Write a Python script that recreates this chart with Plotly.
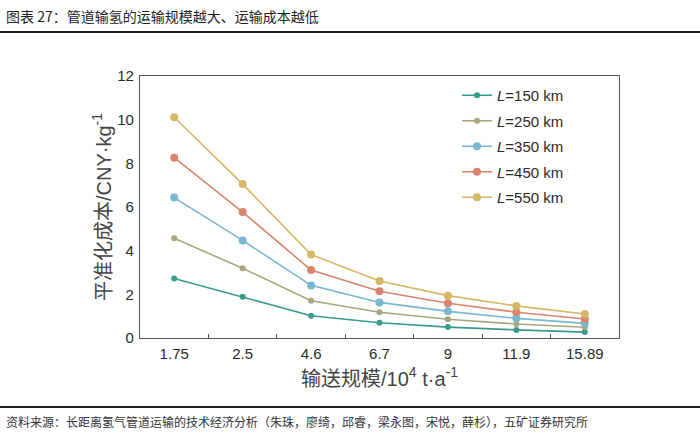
import plotly.graph_objects as go

categories = ["1.75", "2.5", "4.6", "6.7", "9", "11.9", "15.89"]
series_names = ["<i>L</i>=150 km", "<i>L</i>=250 km", "<i>L</i>=350 km", "<i>L</i>=450 km", "<i>L</i>=550 km"]
l150 = [2.73, 1.89, 1.02, 0.70, 0.50, 0.37, 0.27]
l250 = [4.57, 3.19, 1.71, 1.18, 0.86, 0.64, 0.49]
l350 = [6.43, 4.47, 2.41, 1.63, 1.22, 0.90, 0.67]
l450 = [8.26, 5.77, 3.11, 2.14, 1.59, 1.18, 0.87]
l550 = [10.11, 7.05, 3.82, 2.61, 1.94, 1.47, 1.10]
y_ticks = [0, 2, 4, 6, 8, 10, 12]

values = [l150, l250, l350, l450, l550]
colors = ["#3a9a8e", "#a9a67e", "#7ab7d0", "#d8856b", "#d5b866"]
msizes = [6, 6, 8, 8, 8]

FONT = "Liberation Sans, Arial, Noto Sans CJK SC, sans-serif"
CJK = "Noto Sans CJK SC, Liberation Sans, sans-serif"

fig = go.Figure()
for i, (name, vals, c, ms) in enumerate(zip(series_names, values, colors, msizes)):
    fig.add_trace(go.Scatter(
        x=categories, y=vals, name=name, mode="lines+markers",
        legendgroup="g%d" % i,
        line=dict(color=c, width=1.6),
        marker=dict(color=c, size=ms),
    ))

W, H = 700, 434
L, R, T, B = 140, 619, 76, 338
pw, ph = R - L, B - T

def px(x):
    return (x - L) / pw

def py(y):
    return (B - y) / ph

fig.update_layout(
    width=W, height=H,
    margin=dict(l=L, r=W - R, t=T, b=H - B, pad=0),
    paper_bgcolor="white", plot_bgcolor="white",
    font=dict(family=FONT, size=15, color="#2a2a2a"),
    showlegend=True,
    legend=dict(
        x=px(457), y=py(79), xanchor="left", yanchor="top",
        bgcolor="rgba(0,0,0,0)", borderwidth=0,
        font=dict(family=FONT, size=15, color="#2a2a2a"),
        tracegroupgap=3, itemwidth=30,
    ),
    xaxis=dict(
        type="category", categoryorder="array", categoryarray=categories,
        range=[-0.5, 6.5], showgrid=False, zeroline=False,
        showline=True, linecolor="#555555", linewidth=1.2, mirror=True,
        ticks="inside", tickson="boundaries", ticklen=4, tickcolor="#555555",
        ticklabelstandoff=2,
        tickfont=dict(family=FONT, size=15, color="#2a2a2a"),
        title=dict(text="输送规模/10<sup>4</sup> t·a<sup>-1</sup>",
                   font=dict(family=FONT, size=20, color="#444444"), standoff=10),
    ),
    yaxis=dict(
        range=[0, 12], tickvals=y_ticks, showgrid=False, zeroline=False,
        showline=True, linecolor="#555555", linewidth=1.2, mirror=True,
        ticks="", tickfont=dict(family=FONT, size=15, color="#2a2a2a"),
        ticklabelstandoff=2,
        title=dict(text="平准化成本/CNY·kg<sup>-1</sup>",
                   font=dict(family=FONT, size=20, color="#444444"), standoff=0),
    ),
)

fig.add_annotation(
    text="图表 27：管道输氢的运输规模越大、运输成本越低",
    xref="paper", yref="paper", x=px(4), y=py(16), xanchor="left", yanchor="middle",
    showarrow=False, font=dict(family=CJK, size=14, color="#222222"),
)
fig.add_annotation(
    text="资料来源：长距离氢气管道运输的技术经济分析（朱珠，廖绮，邱睿，梁永图，宋悦，薛杉），五矿证券研究所",
    xref="paper", yref="paper", x=px(4), y=py(421), xanchor="left", yanchor="middle",
    showarrow=False, font=dict(family=CJK, size=12, color="#333333"),
)
fig.add_shape(type="line", xref="paper", yref="paper",
              x0=px(0), x1=px(700), y0=py(32), y1=py(32),
              line=dict(color="#222222", width=2))
fig.add_shape(type="line", xref="paper", yref="paper",
              x0=px(0), x1=px(700), y0=py(407), y1=py(407),
              line=dict(color="#222222", width=2))

fig.write_html(
    "out.html",
    config={"displayModeBar": False},
    post_script="document.body.style.margin='0';document.body.style.overflow='hidden';",
)
